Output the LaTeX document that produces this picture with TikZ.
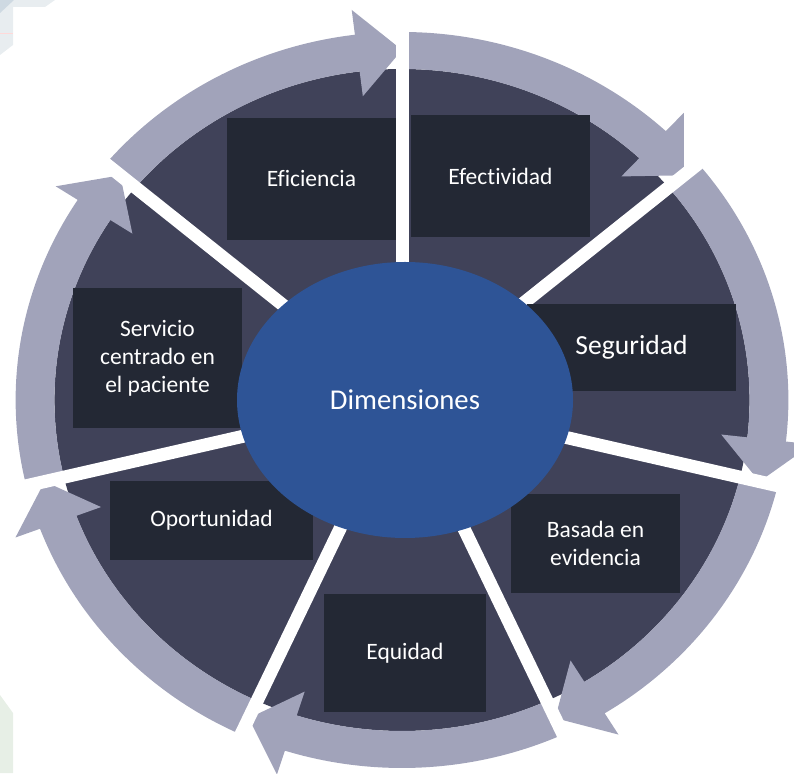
\documentclass[tikz,border=0pt]{standalone}
\usepackage{fontspec}
\setmainfont{Carlito}[Ligatures=NoCommon]
\usetikzlibrary{shapes.geometric}
\definecolor{ringgray}{RGB}{161,163,186}
\definecolor{wheeldark}{RGB}{64,66,89}
\definecolor{boxdark}{RGB}{35,40,52}
\definecolor{hubblue}{RGB}{46,84,150}
\definecolor{cornergray}{RGB}{232,237,240}
\definecolor{cornerblue}{RGB}{206,217,226}
\definecolor{cornergreen}{RGB}{231,239,230}

\begin{document}
\begin{tikzpicture}[x=1pt,y=1pt,
    dimbox/.style={fill=boxdark, text=white, inner sep=0pt, align=center,
      font=\fontsize{23.5}{28}\selectfont},
    hub/.style={ellipse, fill=hubblue, text=white, inner sep=0pt,
      minimum width=336pt, minimum height=276pt, font=\fontsize{28.7}{34}\selectfont},
    gapline/.style={white, line width=13pt}]
\useasboundingbox (0,0) rectangle (794,773);
        % esquinas del fondo
        \fill[cornergray] (0,773)--(55,773)--(45,766)--(13,766)--(13,728)--(0,718)--cycle;
        \fill[cornerblue] (0,773)--(14,773)--(0,760)--cycle;
        \draw[color=red!15, line width=1pt] (0,739)--(13,739);
        \fill[cornergreen] (0,78)--(13,60)--(13,0)--(0,0)--cycle;

        % rueda
        \begin{scope}[shift={(402,373)}, xscale=1.05]
          \fill[wheeldark] (0,0) circle[radius=331];
          \foreach \a/\b [evaluate=\b as \c using \b+7] in {90/39.94, 39.94/-13.48, -13.48/-65.36, -65.36/-114.64, -114.64/-166.52, -166.52/-219.94, -219.94/-270}
            \fill[ringgray] (\a:368) arc[start angle=\a, end angle=\c, radius=368]--(\c:393)--(\b:350)--(\c:306)--(\c:331) arc[start angle=\c, end angle=\a, radius=331]--cycle;
          \foreach \a in {90, 39.94, -13.48, -65.36, -114.64, -166.52, -219.94}
            \draw[gapline] (0,0)--(\a:420);
        \end{scope}

        \node[dimbox, minimum width=169pt, minimum height=122pt] (eficiencia) at (311.5,594) {Eficiencia};
        \node[dimbox, minimum width=179pt, minimum height=122pt] (efectividad) at (500.5,597) {Efectividad};
        \node[dimbox, minimum width=209pt, minimum height=87pt, font=\fontsize{27.6}{33}\selectfont] (seguridad) at (631.5,425.5) {Seguridad};
        \node[dimbox, minimum width=169pt, minimum height=140pt] (servicio) at (157.5,415) {Servicio\\centrado en\\el paciente};
        \node[dimbox, minimum width=203pt, minimum height=79pt] (oportunidad) at (211.5,252.5) {Oportunidad};
        \node[dimbox, minimum width=162pt, minimum height=118pt] (equidad) at (405,120) {Equidad};
        \node[dimbox, minimum width=169pt, minimum height=99pt] (basada) at (595.5,229.5) {Basada en\\evidencia};
        \node[hub] (dimensiones) at (405,373) {Dimensiones};
\end{tikzpicture}
\end{document}
